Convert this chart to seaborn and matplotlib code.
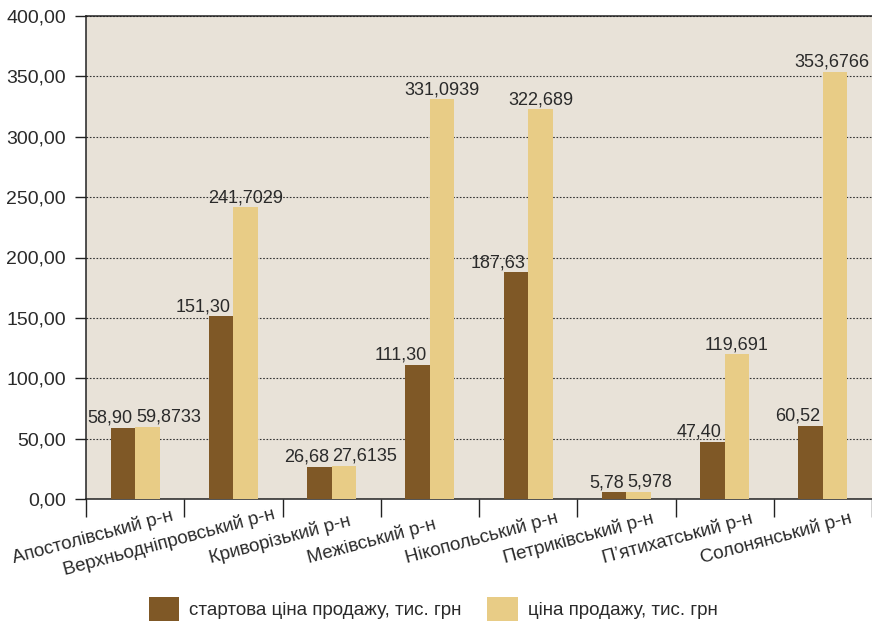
import matplotlib
matplotlib.use("Agg")
import matplotlib.pyplot as plt
import seaborn as sns
import pandas as pd
import numpy as np
from matplotlib.patches import Patch
from matplotlib.ticker import FuncFormatter, FixedLocator
import math

districts = ["Апостолівський р-н", "Верхньодніпровський р-н", "Криворізький р-н",
             "Межівський р-н", "Нікопольський р-н", "Петриківський р-н",
             "П’ятихатський р-н", "Солонянський р-н"]
start_price = [58.90, 151.30, 26.68, 111.30, 187.63, 5.78, 47.40, 60.52]
sale_price = [59.8733, 241.7029, 27.6135, 331.0939, 322.689, 5.978, 119.691, 353.6766]
series_names = ["стартова ціна продажу, тис. грн", "ціна продажу, тис. грн"]
y_ticks = [0, 50, 100, 150, 200, 250, 300, 350, 400]

DARK = "#7F5826"
LIGHT = "#E8CC86"
BG = "#E8E2D8"
TXT = "#2a2a2a"
LINE = "#222222"

sns.set_theme(style="white")
plt.rcParams["font.family"] = ["Liberation Sans", "DejaVu Sans"]

df = pd.DataFrame({
    "district": districts * 2,
    "series": [series_names[0]] * len(districts) + [series_names[1]] * len(districts),
    "value": start_price + sale_price,
})

fig = plt.figure(figsize=(8.72, 6.24), dpi=100)
W, H = 872, 624
ax = fig.add_axes([86 / W, (H - 499) / H, (W - 86) / W, (499 - 16) / H])
ax.set_facecolor(BG)

sns.barplot(data=df, x="district", y="value", hue="series", hue_order=series_names,
            palette=[DARK, LIGHT], width=0.5, saturation=1, linewidth=0,
            dodge=True, legend=False, ax=ax, zorder=3)

ax.set_xlim(-0.5, len(districts) - 0.5)
ax.set_ylim(0, 400)
ax.yaxis.set_major_locator(FixedLocator(y_ticks))
ax.yaxis.set_major_formatter(FuncFormatter(lambda v, p: f"{v:.2f}".replace(".", ",")))
ax.tick_params(axis="y", direction="out", length=8, width=1, color=LINE, pad=6.5,
               labelsize=14, labelcolor=TXT, left=True)
ax.grid(axis="y", color="#333333", linestyle=(0, (1.5, 1.5)), linewidth=0.8, zorder=1)
ax.grid(axis="x", visible=False)

# category boundary ticks
ax.xaxis.set_major_locator(FixedLocator(np.arange(-0.5, len(districts), 1.0)))
ax.set_xticklabels([])
ax.tick_params(axis="x", direction="out", length=13, width=1, color=LINE, bottom=True)
ax.set_xlabel("")
ax.set_ylabel("")

for s in ["left", "bottom", "top"]:
    ax.spines[s].set_visible(True)
    ax.spines[s].set_color(LINE)
    ax.spines[s].set_linewidth(1.1)
ax.spines["right"].set_visible(False)
ax.spines["top"].set_zorder(5)

FS = 13.5
FS_VAL = 13

# data labels
dark_bars = ax.containers[0]
light_bars = ax.containers[1]
value_texts = []
for i, (bd, bl) in enumerate(zip(dark_bars, light_bars)):
    hd = bd.get_height()
    hl = bl.get_height()
    ax.annotate(f"{start_price[i]:.2f}".replace(".", ","),
                xy=(bd.get_x() + bd.get_width(), hd), xytext=(-2, 3.6),
                textcoords="offset points", ha="right", va="baseline",
                fontsize=FS_VAL, color=TXT, zorder=6)
    lab = str(sale_price[i]).replace(".", ",")
    if hl - hd < 20:
        t = ax.annotate(lab, xy=(bl.get_x(), hl), xytext=(0.5, 3.6),
                        textcoords="offset points", ha="left", va="baseline",
                        fontsize=FS_VAL, color=TXT, zorder=6)
    else:
        t = ax.annotate(lab, xy=(bl.get_x() + bl.get_width() / 2, hl), xytext=(0, 3.6),
                        textcoords="offset points", ha="center", va="baseline",
                        fontsize=FS_VAL, color=TXT, zorder=6)
    value_texts.append(t)

# rotated category labels
ROT = 15
px2pt = 72 / fig.dpi
labels = []
for i, name in enumerate(districts):
    t = ax.annotate(name, xy=(i, 0), xycoords=("data", "axes fraction"),
                    xytext=(-121 * px2pt, -64 * px2pt), textcoords="offset points",
                    rotation=ROT, rotation_mode="anchor", ha="left", va="baseline",
                    fontsize=FS, color=TXT, annotation_clip=False)
    labels.append(t)

fig.canvas.draw()
renderer = fig.canvas.get_renderer()
for i, t in enumerate(labels):
    ext = t.get_window_extent(renderer)
    cx = ax.transData.transform((i, 0))[0]
    limit = cx + 44
    if ext.x1 > limit:
        d = (ext.x1 - limit) / math.cos(math.radians(ROT))
        ox, oy = t.xyann
        t.xyann = (ox - d * math.cos(math.radians(ROT)) * px2pt,
                   oy - d * math.sin(math.radians(ROT)) * px2pt)

# keep value labels inside the figure
for t in value_texts:
    ext = t.get_window_extent(renderer)
    if ext.x1 > W - 3:
        ox, oy = t.xyann
        t.xyann = (ox - (ext.x1 - (W - 3)) * px2pt, oy)

handles = [Patch(facecolor=DARK, edgecolor="none"), Patch(facecolor=LIGHT, edgecolor="none")]
fig.legend(handles, series_names, loc="center", bbox_to_anchor=(433 / W, 1 - 609 / H),
           ncol=2, frameon=False, fontsize=FS, handlelength=1.65, handleheight=1.55,
           handletextpad=0.5, columnspacing=1.4, labelcolor=TXT)

fig.savefig("out.png", dpi=100, facecolor="white")
